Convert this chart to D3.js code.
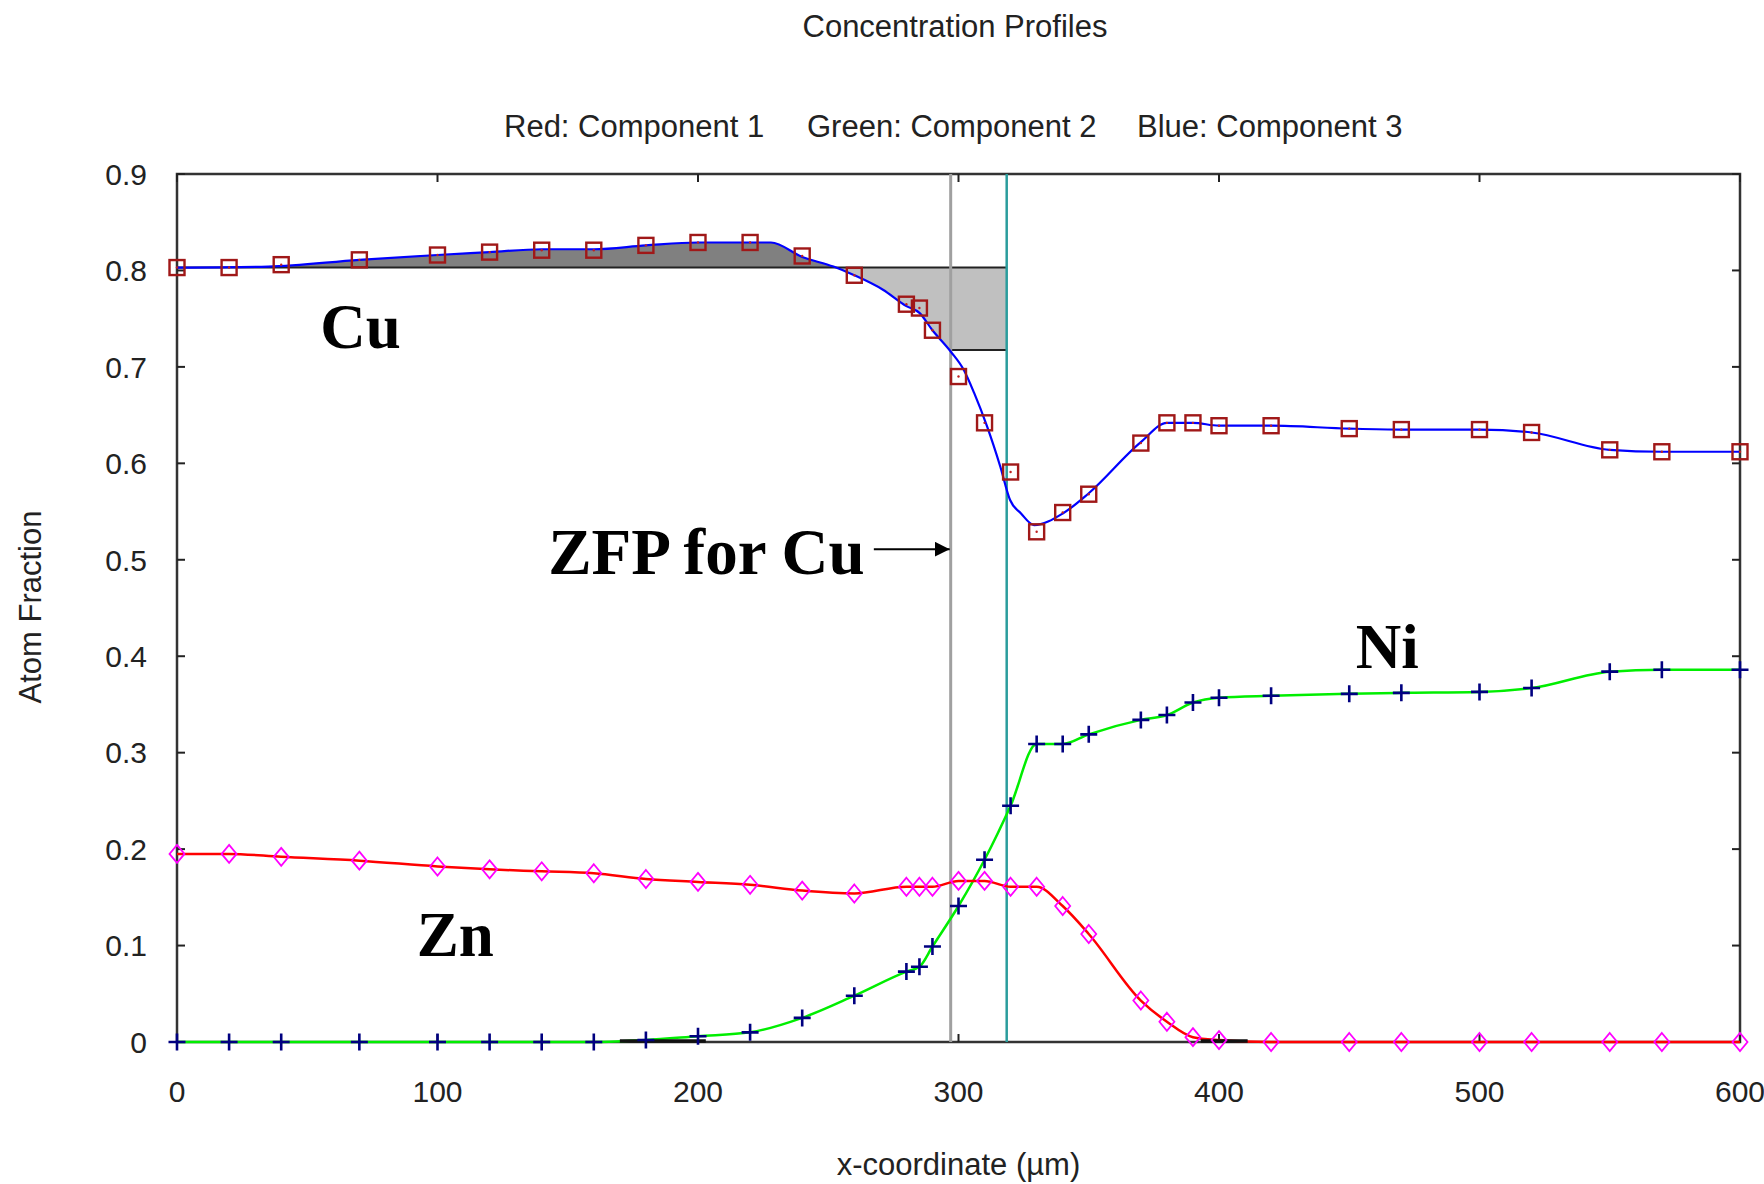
<!DOCTYPE html>
<html>
<head>
<meta charset="utf-8">
<script src="https://cdn.jsdelivr.net/npm/d3@7"></script>
<style>
  body { margin: 0; background: #fff; }
  .tick-label { font-family: "Liberation Sans", Arial, sans-serif; font-size: 30px; fill: #222; }
  .title { font-family: "Liberation Sans", Arial, sans-serif; font-size: 31px; fill: #222; }
  .note { font-family: "Liberation Serif", "Times New Roman", serif; font-size: 63px; font-weight: bold; fill: #000; }
</style>
</head>
<body>
<script>
// sample positions (um)
var xs = [0,20,40,70,100,120,140,160,180,200,220,240,260,280,285,290,300,310,320,330,340,350,370,380,390,400,420,450,470,500,520,550,570,600];

// component markers
var cu = [0.803,0.803,0.806,0.811,0.816,0.819,0.821,0.821,0.826,0.829,0.829,0.815,0.795,0.765,0.761,0.738,0.690,0.642,0.591,0.529,0.549,0.568,0.621,0.642,0.642,0.639,0.639,0.636,0.635,0.635,0.632,0.614,0.612,0.612];
var ni = [0,0,0,0,0,0,0,0,0.002,0.006,0.010,0.025,0.048,0.073,0.078,0.099,0.141,0.189,0.245,0.309,0.309,0.319,0.334,0.339,0.352,0.357,0.359,0.361,0.362,0.363,0.367,0.384,0.386,0.386];
var zn = [0.195,0.195,0.192,0.188,0.182,0.179,0.177,0.175,0.169,0.166,0.163,0.157,0.154,0.161,0.161,0.161,0.167,0.167,0.161,0.161,0.141,0.112,0.043,0.021,0.005,0.002,0,0,0,0,0,0,0,0];

// fitted Cu curve (blue line)
var cuFitX = [0,35,70,100,120,140,160,180,200,220,228,240,252,260,271,280,285,290,297,302,306,311,316,319.8,324,329,340,350,370,380,390,400,420,450,470,500,520,550,570,600];
var cuFitY = [0.803,0.804,0.811,0.816,0.819,0.822,0.822,0.826,0.829,0.829,0.829,0.814,0.804,0.795,0.780,0.763,0.756,0.738,0.716,0.697,0.673,0.638,0.597,0.562,0.548,0.536,0.548,0.569,0.622,0.642,0.642,0.639,0.639,0.636,0.635,0.635,0.632,0.614,0.612,0.612];

// ZFP construction
var zfpX = 297, matanoX = 318.5, zfpTop = 0.803, zfpBottom = 0.7176;
var darkBands = [[170,203],[393,411]];

var xTicks = [0,100,200,300,400,500,600];
var yTicks = [0,0.1,0.2,0.3,0.4,0.5,0.6,0.7,0.8,0.9];

var width = 1764, height = 1184;
var pLeft = 177, pRight = 1740, pTop = 174, pBottom = 1042;

var x = d3.scaleLinear().domain([0,600]).range([pLeft,pRight]);
var y = d3.scaleLinear().domain([0,0.9]).range([pBottom,pTop]);

var svg = d3.select('body').append('svg')
  .attr('width', width)
  .attr('height', height);

var cuFit = cuFitX.map(function(d,i){ return {x:d, y:cuFitY[i]}; });

// dark fill above the baseline
var darkArea = d3.area()
  .x(function(d){return x(d.x);})
  .y0(y(zfpTop))
  .y1(function(d){return y(Math.max(d.y, zfpTop));})
  .curve(d3.curveMonotoneX);
svg.append('path')
  .attr('d', darkArea(cuFit.filter(function(d){return d.x <= 252;})))
  .attr('fill', '#808080');

// light fill below the baseline up to the Matano plane
var lightData = cuFit.filter(function(d){return d.x >= 252 && d.x <= zfpX;})
  .concat([{x:zfpX, y:zfpBottom}, {x:matanoX, y:zfpBottom}]);
var lightArea = d3.area()
  .x(function(d){return x(d.x);})
  .y0(y(zfpTop))
  .y1(function(d){return y(d.y);});
svg.append('path')
  .attr('d', lightArea(lightData))
  .attr('fill', '#c0c0c0');

// frame
svg.append('rect')
  .attr('x', pLeft).attr('y', pTop)
  .attr('width', pRight-pLeft).attr('height', pBottom-pTop)
  .attr('fill', 'none').attr('stroke', '#333').attr('stroke-width', 2.5);

// inward ticks on all four sides
var tl = 8;
xTicks.forEach(function(t){
  svg.append('line').attr('x1', x(t)).attr('x2', x(t)).attr('y1', pBottom).attr('y2', pBottom-tl).attr('stroke','#222').attr('stroke-width',2);
  svg.append('line').attr('x1', x(t)).attr('x2', x(t)).attr('y1', pTop).attr('y2', pTop+tl).attr('stroke','#222').attr('stroke-width',2);
  svg.append('text').attr('class','tick-label').attr('x', x(t)).attr('y', pBottom+60)
    .attr('text-anchor','middle').text(t);
});
yTicks.forEach(function(t){
  svg.append('line').attr('x1', pLeft).attr('x2', pLeft+tl).attr('y1', y(t)).attr('y2', y(t)).attr('stroke','#222').attr('stroke-width',2);
  svg.append('line').attr('x1', pRight).attr('x2', pRight-tl).attr('y1', y(t)).attr('y2', y(t)).attr('stroke','#222').attr('stroke-width',2);
  svg.append('text').attr('class','tick-label').attr('x', pLeft-30).attr('y', y(t)).attr('dy','0.36em')
    .attr('text-anchor','end').text(d3.format('')(t));
});

// ZFP lines
svg.append('line').attr('x1', x(0)).attr('x2', x(matanoX)).attr('y1', y(zfpTop)).attr('y2', y(zfpTop))
  .attr('stroke','#222').attr('stroke-width',2);
svg.append('line').attr('x1', x(zfpX)).attr('x2', x(matanoX)).attr('y1', y(zfpBottom)).attr('y2', y(zfpBottom))
  .attr('stroke','#222').attr('stroke-width',2);
svg.append('line').attr('x1', x(zfpX)).attr('x2', x(zfpX)).attr('y1', pTop).attr('y2', pBottom)
  .attr('stroke','#a0a0a0').attr('stroke-width',3);
svg.append('line').attr('x1', x(matanoX)).attr('x2', x(matanoX)).attr('y1', pTop).attr('y2', pBottom)
  .attr('stroke','#2a9d9d').attr('stroke-width',2.5);

// profile lines
function makeLine(vals){
  return d3.line()
    .x(function(d,i){return x(xs[i]);})
    .y(function(d){return y(d);})
    .curve(d3.curveMonotoneX)(vals);
}
svg.append('path').attr('d', makeLine(ni)).attr('fill','none').attr('stroke','#00ee00').attr('stroke-width',2.5);
svg.append('path').attr('d', makeLine(zn)).attr('fill','none').attr('stroke','#ff0000').attr('stroke-width',2.5);
svg.append('path')
  .attr('d', d3.line().x(function(d){return x(d.x);}).y(function(d){return y(d.y);}).curve(d3.curveMonotoneX)(cuFit))
  .attr('fill','none').attr('stroke','#0000ff').attr('stroke-width',2.2);

darkBands.forEach(function(b){
  svg.append('line').attr('x1', x(b[0])).attr('x2', x(b[1])).attr('y1', y(0)-1).attr('y2', y(0)-1)
    .attr('stroke','#111').attr('stroke-width',3.5);
});

// markers
var s = 7.5;
svg.selectAll('.cu').data(cu).enter().append('rect')
  .attr('class','cu')
  .attr('x', function(d,i){return x(xs[i])-s;})
  .attr('y', function(d){return y(d)-s;})
  .attr('width', 2*s).attr('height', 2*s)
  .attr('fill','none').attr('stroke','#a01818').attr('stroke-width',2.4);
svg.selectAll('.cudot').data(cu).enter().append('circle')
  .attr('class','cudot')
  .attr('cx', function(d,i){return x(xs[i]);})
  .attr('cy', function(d){return y(d);})
  .attr('r', 1.2).attr('fill','#c02020');

svg.selectAll('.zn').data(zn).enter().append('path')
  .attr('class','zn')
  .attr('d', function(d,i){
    var cx = x(xs[i]), cy = y(d);
    return 'M'+cx+','+(cy-9)+'L'+(cx+7.5)+','+cy+'L'+cx+','+(cy+9)+'L'+(cx-7.5)+','+cy+'Z';
  })
  .attr('fill','none').attr('stroke','#ff00ff').attr('stroke-width',1.8);

svg.selectAll('.ni').data(ni).enter().append('path')
  .attr('class','ni')
  .attr('d', function(d,i){
    var cx = x(xs[i]), cy = y(d);
    return 'M'+(cx-8.5)+','+cy+'H'+(cx+8.5)+'M'+cx+','+(cy-8.5)+'V'+(cy+8.5);
  })
  .attr('fill','none').attr('stroke','#000080').attr('stroke-width',2.6);

// annotations
svg.append('text').attr('class','note').attr('x', x(55)).attr('y', y(0.72)).text('Cu');
svg.append('text').attr('class','note').attr('x', x(264)).attr('y', y(0.485)).attr('text-anchor','end')
  .style('font-size','65px').text('ZFP for Cu');
svg.append('text').attr('class','note').attr('x', x(452.5)).attr('y', y(0.388)).text('Ni');
svg.append('text').attr('class','note').attr('x', x(92)).attr('y', y(0.089)).text('Zn');

svg.append('defs').append('marker')
  .attr('id','head').attr('viewBox','0 0 10 10')
  .attr('refX',10).attr('refY',5)
  .attr('markerWidth',15).attr('markerHeight',15).attr('markerUnits','userSpaceOnUse')
  .attr('orient','auto')
  .append('path').attr('d','M0,0L10,5L0,10Z').attr('fill','#000');
svg.append('line')
  .attr('x1', x(267.5)).attr('x2', x(zfpX)-1)
  .attr('y1', y(0.511)).attr('y2', y(0.511))
  .attr('stroke','#000').attr('stroke-width',2)
  .attr('marker-end','url(#head)');

// titles
svg.append('text').attr('class','title').attr('x', 955).attr('y', 37).attr('text-anchor','middle').text('Concentration Profiles');
svg.append('text').attr('class','title').attr('x', 504).attr('y', 137).text('Red: Component 1');
svg.append('text').attr('class','title').attr('x', 807).attr('y', 137).text('Green: Component 2');
svg.append('text').attr('class','title').attr('x', 1137).attr('y', 137).text('Blue: Component 3');
svg.append('text').attr('class','title').attr('x', (pLeft+pRight)/2).attr('y', 1175).attr('text-anchor','middle').text('x-coordinate (µm)');
svg.append('text').attr('class','title')
  .attr('transform','translate(41,607) rotate(-90)')
  .attr('text-anchor','middle').text('Atom Fraction');
</script>
</body>
</html>
